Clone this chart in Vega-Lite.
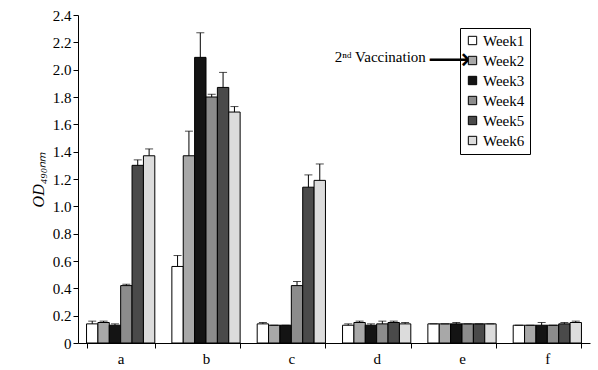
{
  "$schema": "https://vega.github.io/schema/vega-lite/v6.json",
  "width": 512,
  "height": 328,
  "autosize": "none",
  "padding": {"left": 78, "top": 15, "right": 8, "bottom": 27},
  "background": "white",
  "config": {
    "view": {"stroke": null},
    "font": "Liberation Serif",
    "axis": {"labelFont": "Liberation Serif", "titleFont": "Liberation Serif", "labelColor": "black", "domainColor": "black", "tickColor": "black", "grid": false}
  },
  "data": {
    "values": [
      {"group": "a", "week": "Week1", "value": 0.14, "hi": 0.16},
      {"group": "a", "week": "Week2", "value": 0.15, "hi": 0.16},
      {"group": "a", "week": "Week3", "value": 0.13, "hi": 0.14},
      {"group": "a", "week": "Week4", "value": 0.42, "hi": 0.43},
      {"group": "a", "week": "Week5", "value": 1.30, "hi": 1.34},
      {"group": "a", "week": "Week6", "value": 1.37, "hi": 1.42},
      {"group": "b", "week": "Week1", "value": 0.56, "hi": 0.64},
      {"group": "b", "week": "Week2", "value": 1.37, "hi": 1.55},
      {"group": "b", "week": "Week3", "value": 2.09, "hi": 2.27},
      {"group": "b", "week": "Week4", "value": 1.80, "hi": 1.82},
      {"group": "b", "week": "Week5", "value": 1.87, "hi": 1.98},
      {"group": "b", "week": "Week6", "value": 1.69, "hi": 1.73},
      {"group": "c", "week": "Week1", "value": 0.14, "hi": 0.15},
      {"group": "c", "week": "Week2", "value": 0.13, "hi": 0.13},
      {"group": "c", "week": "Week3", "value": 0.13, "hi": 0.13},
      {"group": "c", "week": "Week4", "value": 0.42, "hi": 0.45},
      {"group": "c", "week": "Week5", "value": 1.14, "hi": 1.23},
      {"group": "c", "week": "Week6", "value": 1.19, "hi": 1.31},
      {"group": "d", "week": "Week1", "value": 0.13, "hi": 0.14},
      {"group": "d", "week": "Week2", "value": 0.15, "hi": 0.16},
      {"group": "d", "week": "Week3", "value": 0.13, "hi": 0.14},
      {"group": "d", "week": "Week4", "value": 0.14, "hi": 0.16},
      {"group": "d", "week": "Week5", "value": 0.15, "hi": 0.16},
      {"group": "d", "week": "Week6", "value": 0.14, "hi": 0.15},
      {"group": "e", "week": "Week1", "value": 0.14, "hi": 0.14},
      {"group": "e", "week": "Week2", "value": 0.14, "hi": 0.14},
      {"group": "e", "week": "Week3", "value": 0.14, "hi": 0.15},
      {"group": "e", "week": "Week4", "value": 0.14, "hi": 0.14},
      {"group": "e", "week": "Week5", "value": 0.14, "hi": 0.14},
      {"group": "e", "week": "Week6", "value": 0.14, "hi": 0.14},
      {"group": "f", "week": "Week1", "value": 0.13, "hi": 0.13},
      {"group": "f", "week": "Week2", "value": 0.13, "hi": 0.13},
      {"group": "f", "week": "Week3", "value": 0.13, "hi": 0.15},
      {"group": "f", "week": "Week4", "value": 0.13, "hi": 0.13},
      {"group": "f", "week": "Week5", "value": 0.14, "hi": 0.15},
      {"group": "f", "week": "Week6", "value": 0.15, "hi": 0.16}
    ]
  },
  "encoding": {
    "x": {
      "field": "group", "type": "nominal",
      "scale": {"paddingInner": 0.2, "paddingOuter": 0.1},
      "axis": {"title": null, "labelAngle": 0, "tickBand": "extent", "labelFontSize": 15, "labelPadding": 3, "tickSize": 5}
    },
    "xOffset": {"field": "week", "type": "nominal"},
    "y": {
      "field": "value", "type": "quantitative",
      "scale": {"domain": [0, 2.4], "nice": false},
      "axis": {
        "title": "OD₄₉₀ₙₘ", "titleFontSize": 16, "titleFontStyle": "italic", "titleFontWeight": "normal", "titlePadding": 6,
        "values": [0, 0.2, 0.4, 0.6, 0.8, 1.0, 1.2, 1.4, 1.6, 1.8, 2.0, 2.2, 2.4],
        "labelExpr": "datum.value == 0 ? '0' : format(datum.value, '.1f')",
        "labelFontSize": 15, "tickSize": 5
      }
    }
  },
  "layer": [
    {
      "mark": {"type": "bar", "stroke": "black", "strokeWidth": 1},
      "encoding": {
        "fill": {
          "field": "week", "type": "nominal",
          "scale": {"domain": ["Week1", "Week2", "Week3", "Week4", "Week5", "Week6"], "range": ["#ffffff", "#a8a8a8", "#141414", "#8c8c8c", "#4a4a4a", "#dcdcdc"]},
          "legend": {
            "title": null, "orient": "none", "legendX": 382, "legendY": 13,
            "strokeColor": "black", "padding": 5, "symbolType": "square", "symbolSize": 70,
            "symbolStrokeColor": "black", "symbolStrokeWidth": 1,
            "labelFont": "Liberation Serif", "labelFontSize": 15, "labelColor": "black", "rowPadding": 4, "labelOffset": 3
          }
        }
      }
    },
    {
      "mark": {"type": "rule", "color": "black", "strokeWidth": 1},
      "encoding": {"y2": {"field": "hi"}}
    },
    {
      "mark": {"type": "tick", "color": "black", "thickness": 1, "size": 8, "orient": "horizontal"},
      "encoding": {"y": {"field": "hi", "type": "quantitative"}}
    },
    {
      "data": {"values": [{"group": "e", "label": "2ⁿᵈ  Vaccination", "pos": 2.09}]},
      "mark": {"type": "text", "align": "right", "baseline": "middle", "fontSize": 15, "font": "Liberation Serif", "color": "black", "dx": -2},
      "encoding": {
        "x": {"field": "group", "type": "nominal", "bandPosition": 0},
        "xOffset": null,
        "y": {"field": "pos", "type": "quantitative"},
        "text": {"field": "label"}
      }
    },
    {
      "data": {"values": [{"group": "e", "label": "⟶", "pos": 2.07}]},
      "mark": {"type": "text", "align": "left", "baseline": "middle", "fontSize": 30, "font": "DejaVu Sans", "color": "black", "dx": 0},
      "encoding": {
        "x": {"field": "group", "type": "nominal", "bandPosition": 0},
        "xOffset": null,
        "y": {"field": "pos", "type": "quantitative"},
        "text": {"field": "label"}
      }
    }
  ]
}
